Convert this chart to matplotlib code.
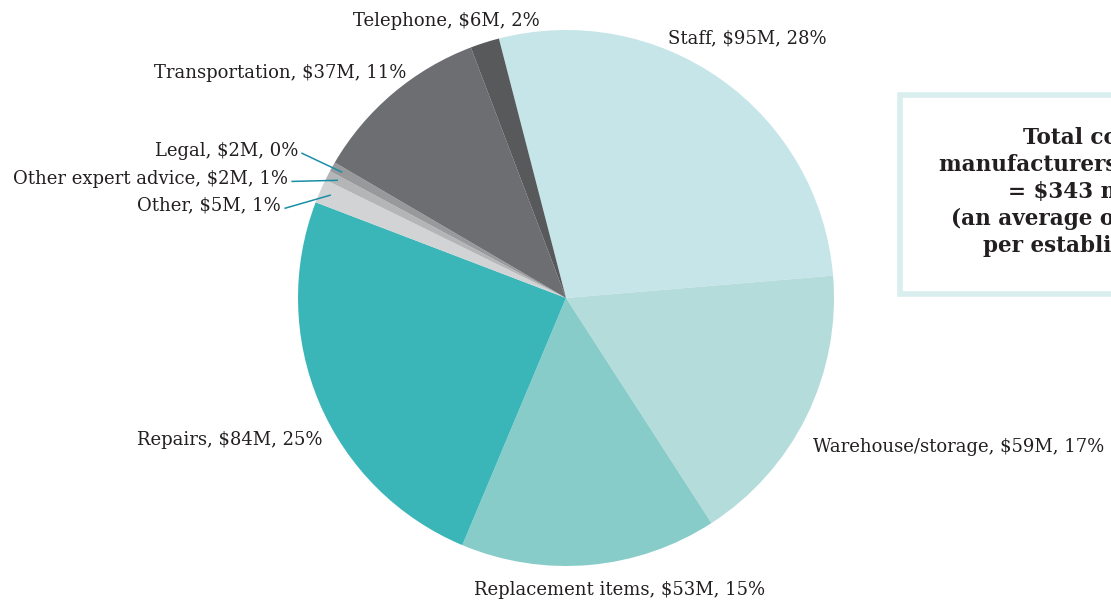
import numpy as np
import matplotlib
matplotlib.use("Agg")
import matplotlib.pyplot as plt
from matplotlib.patches import Rectangle

# Costs by category ($M), clockwise from the top
categories = ["Staff", "Warehouse/storage", "Replacement items", "Repairs", "Other",
              "Other expert advice", "Legal", "Transportation", "Telephone"]
costs = [95, 59, 53, 84, 5, 2, 2, 37, 6]
pcts = [28, 17, 15, 25, 1, 1, 0, 11, 2]
colors = ["#c6e5e8", "#b4dcdb", "#88ccc9", "#3ab6b9", "#d1d3d4",
          "#b3b5b7", "#97999b", "#6d6e71", "#58595b"]

box_lines = ["Total cost to", "manufacturers in 2019-20", "= $343 million",
             "(an average of $120,000", "per establishment)"]

# label placement in pie units (x, y, ha); leader lines for the thin slices
label_pos = {
    "Staff": (0.675, 0.97, "center"),
    "Warehouse/storage": (0.922, -0.555, "left"),
    "Replacement items": (0.20, -1.09, "center"),
    "Repairs": (-0.91, -0.53, "right"),
    "Other": (-1.063, 0.345, "right"),
    "Other expert advice": (-1.037, 0.445, "right"),
    "Legal": (-1.0, 0.55, "right"),
    "Transportation": (-0.597, 0.84, "right"),
    "Telephone": (-0.445, 1.035, "center"),
}
leader = {"Other", "Other expert advice", "Legal"}

plt.rcParams["font.family"] = ["DejaVu Serif"]
W, H = 1111, 602
fig = plt.figure(figsize=(W / 100, H / 100), dpi=100)

cx, cy, r = 566, 298, 268
ax = fig.add_axes([(cx - r) / W, (H - cy - r) / H, 2 * r / W, 2 * r / H])
wedges, _ = ax.pie(costs, colors=colors, startangle=104.5, counterclock=False,
                   radius=1, wedgeprops=dict(linewidth=0))
ax.set_xlim(-1, 1)
ax.set_ylim(-1, 1)
ax.set_aspect("equal")
ax.axis("off")

for w, cat, val, p in zip(wedges, categories, costs, pcts):
    x, y, ha = label_pos[cat]
    ax.text(x, y, f"{cat}, ${val}M, {p}%", ha=ha, va="center", fontsize=13,
            color="#231f20", clip_on=False)
    if cat in leader:
        mid = np.deg2rad((w.theta1 + w.theta2) / 2)
        ax.plot([x + 0.015, 0.96 * np.cos(mid)], [y - 0.01, 0.96 * np.sin(mid)],
                color="#1a8ea6", lw=1.1, clip_on=False)

# summary box on the right, cut off by the figure edge
fig.patches.append(Rectangle((900 / W, (H - 294) / H), 260 / W, 199 / H,
                             transform=fig.transFigure, facecolor="white",
                             edgecolor="#d9eeee", lw=4))
fig.text(1097 / W, (H - 192) / H, "\n".join(box_lines), ha="center", va="center",
         fontsize=15.5, fontweight="bold", color="#231f20", linespacing=1.3)

fig.savefig("out.png", dpi=100)
